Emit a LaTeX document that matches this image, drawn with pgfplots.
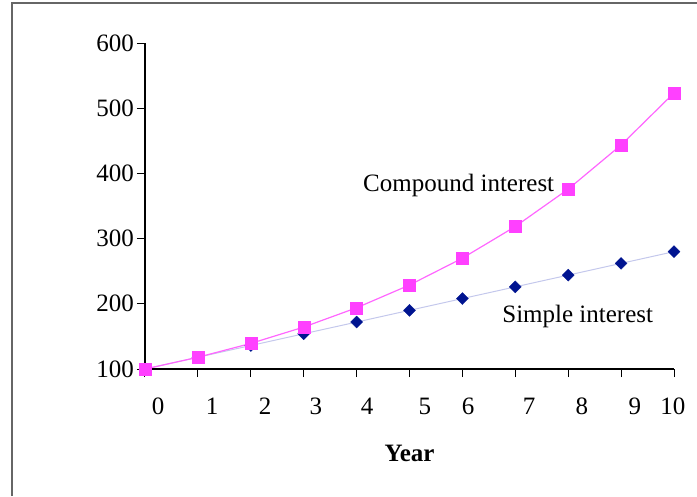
\documentclass[border=0pt]{standalone}
\usepackage{fontspec}
\setmainfont{Liberation Serif}
\usepackage{pgfplots}
\pgfplotsset{compat=1.18}
\definecolor{pinkc}{HTML}{FF40FF}
\definecolor{pinkl}{HTML}{FF66FF}
\definecolor{navyc}{HTML}{001490}
\definecolor{navyl}{HTML}{C4C8EC}
\begin{document}
\fontsize{25}{30}\selectfont
\begin{tikzpicture}
\useasboundingbox (0pt,0pt) rectangle (697pt,496pt);
\draw[color=gray!80!black, line width=1.6pt] (12pt,0pt) -- (12pt,493pt) -- (697pt,493pt);
\begin{axis}[
  at={(145pt,127pt)}, anchor=south west,
  scale only axis, width=529pt, height=326pt,
  xmin=0, xmax=10, ymin=100, ymax=600,
  axis lines=left,
  axis line style={black, line width=1.4pt, -},
  tick align=outside,
  major tick length=8pt,
  tick style={black, line width=1pt},
  xtick={0,1,...,10}, xticklabels={},
  ytick={100,200,...,600},
  /pgf/number format/assume math mode=true,
  tick label style={font=\fontsize{25}{30}\selectfont},
  yticklabel style={anchor=east, inner sep=0pt, xshift=-3pt},
  extra x ticks={0.25,1.27,2.27,3.23,4.20,5.29,6.11,7.26,8.26,9.26,9.98},
  extra x tick labels={0,1,2,3,4,5,6,7,8,9,10},
  extra x tick style={major tick length=0pt, xticklabel style={anchor=north, inner sep=0pt, yshift=-29pt}},
  xlabel={\textbf{Year}},
  xlabel style={font=\fontsize{25}{30}\selectfont, at={(axis description cs:0.5,0)}, anchor=center, yshift=-84pt},
  clip=false,
]
\addplot[color=navyl, line width=1pt, mark=square*, mark size=4.25pt,
  mark options={rotate=45, fill=navyc, draw=navyc, line width=0.3pt}]
  coordinates {(0,100) (1,118) (2,136) (3,154) (4,172) (5,190) (6,208) (7,226) (8,244) (9,262) (10,280)};
\addplot[color=pinkl, line width=1.2pt, mark=square*, mark size=6pt,
  mark options={fill=pinkc, draw=pinkc, line width=0.3pt}]
  coordinates {(0,100) (1,118) (2,139.24) (3,164.30) (4,193.88) (5,228.78) (6,269.96) (7,318.55) (8,375.89) (9,443.55) (10,523.38)};
\node[font=\fontsize{25}{30}\selectfont] at (axis cs:5.93,380.7) {Compound interest};
\node[font=\fontsize{25}{30}\selectfont] at (axis cs:8.18,179.8) {Simple interest};
\end{axis}
\end{tikzpicture}
\end{document}
